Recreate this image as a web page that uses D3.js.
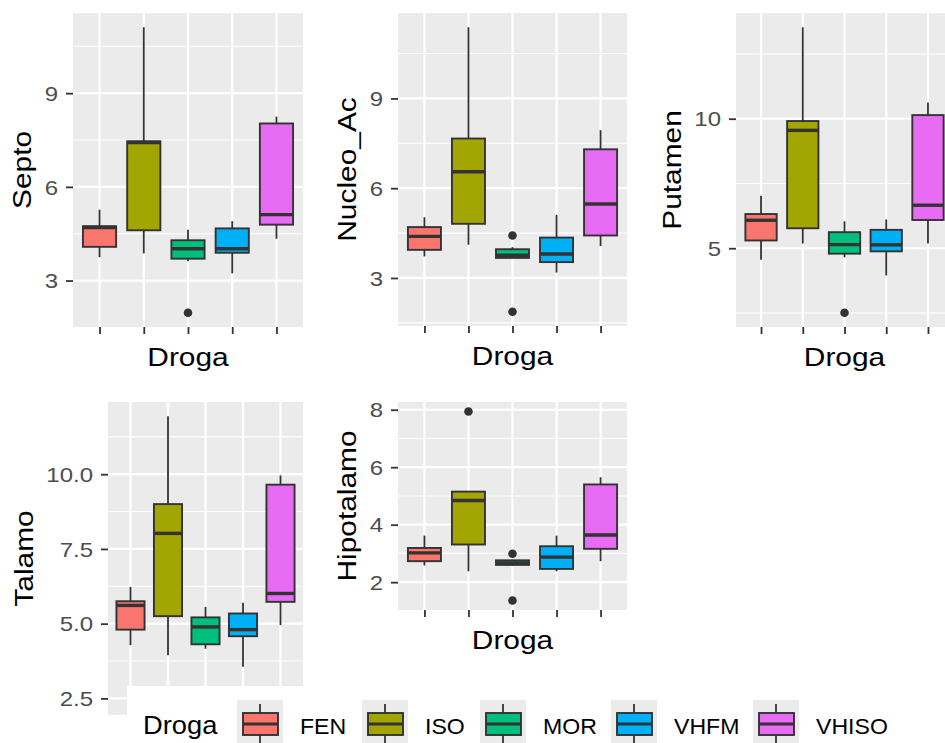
<!DOCTYPE html>
<html><head><meta charset="utf-8">
<script src="https://cdn.jsdelivr.net/npm/d3@7"></script>
<style>
body{margin:0;background:#fff}
svg{display:block}
text{font-family:"Liberation Sans",Arial,sans-serif}
</style>
</head><body>
<svg id="c" width="945" height="743"></svg>
<script>
// ---------------- data ----------------
const drogas = ["FEN", "ISO", "MOR", "VHFM", "VHISO"];
const colores = ["#F8766D", "#A3A500", "#00BF7D", "#00B0F6", "#E76BF3"];

// each row: [lower whisker, Q1, median, Q3, upper whisker]
const septo = [[3.75, 4.08, 4.70, 4.74, 5.27], [3.87, 4.61, 7.42, 7.46, 11.11], [3.62, 3.70, 4.02, 4.29, 4.63], [3.23, 3.89, 4.02, 4.67, 4.90], [4.34, 4.79, 5.11, 8.03, 8.25]];
const septoOut = [[], [], [1.97], [], []];

const nucleoAc = [[3.72, 3.94, 4.39, 4.70, 5.03], [4.11, 4.81, 6.55, 7.66, 11.38], [3.67, 3.67, 3.76, 3.96, 4.03], [3.18, 3.53, 3.80, 4.35, 5.11], [4.07, 4.42, 5.47, 7.30, 7.94]];
const nucleoAcOut = [[], [], [4.42, 1.87], [], []];

const putamen = [[4.56, 5.30, 6.08, 6.32, 7.03], [5.18, 5.77, 9.55, 9.91, 13.53], [4.65, 4.79, 5.14, 5.62, 6.04], [3.95, 4.88, 5.13, 5.71, 6.11], [5.18, 6.09, 6.66, 10.14, 10.63]];
const putamenOut = [[], [], [2.51], [], []];

const talamo = [[4.28, 4.80, 5.61, 5.75, 6.23], [3.94, 5.25, 8.02, 9.00, 11.94], [4.16, 4.31, 4.89, 5.21, 5.56], [3.56, 4.58, 4.80, 5.34, 5.70], [4.95, 5.73, 6.01, 9.65, 9.96]];
const talamoOut = [[], [], [2.42], [], []];

const hipotalamo = [[2.58, 2.73, 3.02, 3.19, 3.62], [2.38, 3.31, 4.84, 5.15, 5.15], [2.57, 2.60, 2.67, 2.76, 2.78], [2.38, 2.46, 2.87, 3.25, 3.62], [2.73, 3.16, 3.64, 5.40, 5.65]];
const hipotalamoOut = [[], [7.94], [2.99, 1.36], [], []];

const septoTicks = [3, 6, 9];
const nucleoAcTicks = [3, 6, 9];
const putamenTicks = [5, 10];
const talamoTicks = [2.5, 5, 7.5, 10];
const hipotalamoTicks = [2, 4, 6, 8];

// ---------------- layout ----------------
const panels = [
  {title: "Septo", stats: septo, out: septoOut, ticks: septoTicks, fmt: d3.format("d"), x0: 73, x1: 303, y0: 13, y1: 327, xTitle: true},
  {title: "Nucleo_Ac", stats: nucleoAc, out: nucleoAcOut, ticks: nucleoAcTicks, fmt: d3.format("d"), x0: 398, x1: 627, y0: 13, y1: 326, xTitle: true},
  {title: "Putamen", stats: putamen, out: putamenOut, ticks: putamenTicks, fmt: d3.format("d"), x0: 736, x1: 953, y0: 13, y1: 327, xTitle: true},
  {title: "Talamo", stats: talamo, out: talamoOut, ticks: talamoTicks, fmt: d3.format(".1f"), x0: 108, x1: 303, y0: 402, y1: 715, xTitle: false},
  {title: "Hipotalamo", stats: hipotalamo, out: hipotalamoOut, ticks: hipotalamoTicks, fmt: d3.format("d"), x0: 398, x1: 627, y0: 402, y1: 610, xTitle: true}
];
const legendKeyX = [237, 362, 480, 611, 753];

const TICK_FS = 20, TICK_SX = 1.2;
const TITLE_FS = 26, TITLE_SX = 1.15;
const LEG_FS = 22, LEG_SX = 1.05;
const INK = "#333333", TICK_COL = "#4D4D4D";

const svg = d3.select("#c");

panels.forEach(p => {
  const all = p.stats.flat().concat(p.out.flat());
  const lo = d3.min(all), hi = d3.max(all), pad = (hi - lo) * 0.05;
  const y = d3.scaleLinear().domain([lo - pad, hi + pad]).range([p.y1, p.y0]);
  const x = d3.scalePoint().domain(drogas).range([p.x0, p.x1]).padding(0.6);
  const bw = x.step() * 0.75;
  const g = svg.append("g");

  g.append("rect").attr("x", p.x0).attr("y", p.y0).attr("width", p.x1 - p.x0).attr("height", p.y1 - p.y0).attr("fill", "#EBEBEB");

  // minor grid
  const st = p.ticks[1] - p.ticks[0];
  const minor = [];
  for (let v = p.ticks[0] - st / 2; v <= hi + pad; v += st) if (v >= lo - pad) minor.push(v);
  g.selectAll(".mn").data(minor).join("line")
    .attr("x1", p.x0).attr("x2", p.x1).attr("y1", d => y(d)).attr("y2", d => y(d))
    .attr("stroke", "#fff").attr("stroke-width", 1.1);
  g.selectAll(".mj").data(p.ticks).join("line")
    .attr("x1", p.x0).attr("x2", p.x1).attr("y1", d => y(d)).attr("y2", d => y(d))
    .attr("stroke", "#fff").attr("stroke-width", 2.2);
  g.selectAll(".vg").data(drogas).join("line")
    .attr("x1", d => x(d)).attr("x2", d => x(d)).attr("y1", p.y0).attr("y2", p.y1)
    .attr("stroke", "#fff").attr("stroke-width", 2.2);

  const rows = drogas.map((d, i) => ({d, s: p.stats[i], c: colores[i], o: p.out[i]}));
  // whiskers
  g.selectAll(".wh").data(rows).join("line")
    .attr("x1", r => x(r.d)).attr("x2", r => x(r.d))
    .attr("y1", r => y(r.s[0])).attr("y2", r => y(r.s[4]))
    .attr("stroke", INK).attr("stroke-width", 1.8);
  g.selectAll(".bx").data(rows).join("rect")
    .attr("x", r => x(r.d) - bw / 2).attr("width", bw)
    .attr("y", r => y(r.s[3])).attr("height", r => Math.max(0.5, y(r.s[1]) - y(r.s[3])))
    .attr("fill", r => r.c).attr("stroke", INK).attr("stroke-width", 1.9);
  g.selectAll(".md").data(rows).join("line")
    .attr("x1", r => x(r.d) - bw / 2).attr("x2", r => x(r.d) + bw / 2)
    .attr("y1", r => y(r.s[2])).attr("y2", r => y(r.s[2]))
    .attr("stroke", INK).attr("stroke-width", 3.4);
  g.selectAll(".ol").data(rows.flatMap(r => r.o.map(v => ({d: r.d, v})))).join("circle")
    .attr("cx", o => x(o.d)).attr("cy", o => y(o.v)).attr("r", 4.3).attr("fill", INK);

  // axes
  const ya = g.append("g").attr("transform", `translate(${p.x0},0)`)
    .call(d3.axisLeft(y).tickValues(p.ticks).tickFormat(p.fmt).tickSize(7));
  ya.select(".domain").remove();
  ya.selectAll(".tick line").attr("stroke", INK).attr("stroke-width", 1.8);
  ya.selectAll(".tick text").attr("x", 0).attr("dy", "0.36em")
    .attr("transform", `translate(-15,0) scale(${TICK_SX},1)`)
    .attr("fill", TICK_COL).style("font-size", TICK_FS + "px").attr("font-family", null);

  const xa = g.append("g").attr("transform", `translate(0,${p.y1})`)
    .call(d3.axisBottom(x).tickFormat("").tickSize(7));
  xa.select(".domain").remove();
  xa.selectAll(".tick line").attr("stroke", INK).attr("stroke-width", 1.8);

  // titles
  const bb = ya.node().getBBox();
  const tx = p.x0 + bb.x - 23;
  g.append("text")
    .attr("transform", `translate(${tx},${(p.y0 + p.y1) / 2}) rotate(-90) scale(${TITLE_SX},1)`)
    .attr("text-anchor", "middle").attr("dy", "0.36em")
    .style("font-size", TITLE_FS + "px").attr("fill", "#000").text(p.title);
  if (p.xTitle) {
    g.append("text")
      .attr("transform", `translate(${(p.x0 + p.x1) / 2},${p.y1 + 39}) scale(${TITLE_SX},1)`)
      .attr("text-anchor", "middle")
      .style("font-size", TITLE_FS + "px").attr("fill", "#000").text("Droga");
  }
});

// ---------------- legend ----------------
const lg = svg.append("g");
lg.append("rect").attr("x", 127).attr("y", 686).attr("width", 945 - 127).attr("height", 743 - 686).attr("fill", "#fff");
lg.append("text").attr("transform", `translate(143,734) scale(${LEG_SX},1)`)
  .style("font-size", TITLE_FS + "px").attr("fill", "#000").text("Droga");
const items = lg.selectAll(".it").data(drogas.map((d, i) => ({d, c: colores[i], kx: legendKeyX[i]}))).join("g")
  .attr("transform", k => `translate(${k.kx},700)`);
items.append("rect").attr("width", 46).attr("height", 46).attr("fill", "#EBEBEB");
items.append("line").attr("x1", 23).attr("x2", 23).attr("y1", 4).attr("y2", 46).attr("stroke", INK).attr("stroke-width", 1.8);
items.append("rect").attr("x", 6).attr("y", 13).attr("width", 35).attr("height", 22)
  .attr("fill", k => k.c).attr("stroke", INK).attr("stroke-width", 1.9);
items.append("line").attr("x1", 6).attr("x2", 41).attr("y1", 24).attr("y2", 24).attr("stroke", INK).attr("stroke-width", 3.2);
items.append("text").attr("transform", `translate(63,34) scale(${LEG_SX},1)`)
  .style("font-size", LEG_FS + "px").attr("fill", "#000").text(k => k.d);
</script>
</body></html>
